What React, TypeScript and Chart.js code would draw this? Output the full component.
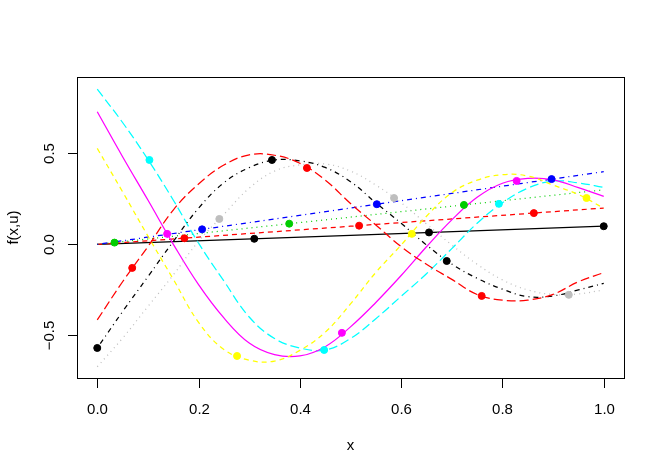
import React, { useEffect, useRef } from "react";
import { Chart, registerables } from "chart.js";

Chart.register(...registerables);

const xGrid = [0, 0.05, 0.1, 0.15, 0.2, 0.25, 0.3, 0.35, 0.4, 0.45, 0.5, 0.55, 0.6, 0.65, 0.7, 0.75, 0.8, 0.85, 0.9, 0.95, 1];

// straight lines (end points)
const lineX = [0, 1];
const blackSolid = [0, 0.1];
const redDashed = [0, 0.2];
const greenDotted = [0, 0.3];
const blueDotDash = [0, 0.4];

// curves
const cyanLong = [0.853, 0.670, 0.467, 0.244, 0.007, -0.201, -0.399, -0.517, -0.569, -0.580, -0.517, -0.408, -0.285, -0.161, -0.023, 0.116, 0.229, 0.309, 0.348, 0.338, 0.313];
const magentaSolid = [0.729, 0.482, 0.244, 0.002, -0.221, -0.404, -0.542, -0.606, -0.613, -0.562, -0.453, -0.319, -0.171, -0.013, 0.135, 0.259, 0.336, 0.363, 0.355, 0.312, 0.264];
const yellowDashed = [0.528, 0.289, 0.046, -0.191, -0.428, -0.577, -0.636, -0.641, -0.582, -0.483, -0.327, -0.154, -0.003, 0.155, 0.284, 0.353, 0.383, 0.376, 0.326, 0.274, 0.199];
const grayDotted = [-0.672, -0.515, -0.341, -0.168, 0.017, 0.165, 0.309, 0.403, 0.437, 0.442, 0.403, 0.326, 0.229, 0.113, -0.003, -0.109, -0.195, -0.250, -0.275, -0.272, -0.250];
const blackDotDash = [-0.569, -0.369, -0.177, 0.016, 0.199, 0.339, 0.422, 0.464, 0.459, 0.423, 0.345, 0.229, 0.116, -0.003, -0.108, -0.186, -0.246, -0.287, -0.283, -0.250, -0.214];
const redLong = [-0.415, -0.205, -0.012, 0.189, 0.332, 0.436, 0.492, 0.490, 0.446, 0.354, 0.225, 0.107, -0.012, -0.109, -0.192, -0.275, -0.306, -0.306, -0.274, -0.205, -0.155];

// sampled points
const pointX = [0, 0.034, 0.069, 0.103, 0.138, 0.172, 0.207, 0.241, 0.276, 0.310, 0.345, 0.379, 0.414, 0.448, 0.483, 0.517, 0.552, 0.586, 0.621, 0.655, 0.690, 0.724, 0.759, 0.793, 0.828, 0.862, 0.897, 0.931, 0.966, 1.0];
const pointY = [-0.569, 0.010, -0.129, 0.464, 0.058, 0.034, 0.083, 0.140, -0.613, 0.031, 0.464, 0.114, 0.420, -0.580, -0.486, 0.103, 0.221, 0.255, 0.058, 0.066, -0.091, 0.217, -0.283, 0.223, 0.349, 0.172, 0.359, -0.277, 0.255, 0.1];
const pointColors = [
  "#000000", "#00CD00", "#FF0000", "#00FFFF", "#FF00FF", "#FF0000", "#0000FF", "#BEBEBE", "#FFFF00", "#000000",
  "#000000", "#00CD00", "#FF0000", "#00FFFF", "#FF00FF", "#FF0000", "#0000FF", "#BEBEBE", "#FFFF00", "#000000",
  "#000000", "#00CD00", "#FF0000", "#00FFFF", "#FF00FF", "#FF0000", "#0000FF", "#BEBEBE", "#FFFF00", "#000000",
];

const xTicks = [0, 0.2, 0.4, 0.6, 0.8, 1.0];
const xTickLabels = ["0.0", "0.2", "0.4", "0.6", "0.8", "1.0"];
const yTicks = [-0.5, 0, 0.5];
const yTickLabels = ["\u22120.5", "0.0", "0.5"];
const xTitle = "x";
const yTitle = "f(x,u)";

const FONT = "15px 'Liberation Sans', Arial, Helvetica, sans-serif";

const rAxes = {
  id: "rAxes",
  afterDraw(chart: any) {
    const { ctx, chartArea: a, scales } = chart;
    const xs = scales.x;
    const ys = scales.y;
    ctx.save();
    ctx.strokeStyle = "#000";
    ctx.fillStyle = "#000";
    ctx.lineWidth = 1;
    ctx.setLineDash([]);
    ctx.strokeRect(a.left + 0.5, a.top + 0.5, a.right - a.left, a.bottom - a.top);
    ctx.font = FONT;
    // x axis
    ctx.textAlign = "center";
    ctx.textBaseline = "alphabetic";
    xTicks.forEach((v, i) => {
      const px = Math.round(xs.getPixelForValue(v)) + 0.5;
      ctx.beginPath();
      ctx.moveTo(px, a.bottom + 0.5);
      ctx.lineTo(px, a.bottom + 10);
      ctx.stroke();
      ctx.fillText(xTickLabels[i], px, a.bottom + 35.5);
    });
    ctx.fillText(xTitle, (a.left + a.right) / 2, a.bottom + 71.5);
    // y axis
    yTicks.forEach((v, i) => {
      const py = Math.round(ys.getPixelForValue(v)) + 0.5;
      ctx.beginPath();
      ctx.moveTo(a.left + 0.5, py);
      ctx.lineTo(a.left - 9, py);
      ctx.stroke();
      ctx.save();
      ctx.translate(a.left - 23, py);
      ctx.rotate(-Math.PI / 2);
      ctx.fillText(yTickLabels[i], 0, 0);
      ctx.restore();
    });
    ctx.save();
    ctx.translate(a.left - 59, (a.top + a.bottom) / 2);
    ctx.rotate(-Math.PI / 2);
    ctx.fillText(yTitle, 0, 0);
    ctx.restore();
    ctx.restore();
  },
};

function toXY(xs: number[], ys: number[]) {
  return xs.map((x, i) => ({ x, y: ys[i] }));
}

function lineSet(xs: number[], ys: number[], color: string, dash: number[]) {
  return {
    type: "scatter" as const,
    data: toXY(xs, ys),
    showLine: true,
    borderColor: color,
    backgroundColor: color,
    borderWidth: 1.25,
    borderDash: dash,
    pointRadius: 0,
    tension: 0.4,
    fill: false,
  };
}

export default function App() {
  const ref = useRef<HTMLCanvasElement | null>(null);
  useEffect(() => {
    if (!ref.current) return;
    const curves = [
      lineSet(lineX, blackSolid, "#000000", []),
      lineSet(lineX, redDashed, "#FF0000", [5, 4]),
      lineSet(lineX, greenDotted, "#00CD00", [1, 4]),
      lineSet(lineX, blueDotDash, "#0000FF", [1, 4, 5, 4]),
      lineSet(xGrid, cyanLong, "#00FFFF", [9, 4]),
      lineSet(xGrid, magentaSolid, "#FF00FF", []),
      lineSet(xGrid, yellowDashed, "#FFFF00", [5, 4]),
      lineSet(xGrid, grayDotted, "#BEBEBE", [1, 4]),
      lineSet(xGrid, blackDotDash, "#000000", [1, 4, 5, 4]),
      lineSet(xGrid, redLong, "#FF0000", [9, 4]),
    ];
    const points = {
      type: "scatter" as const,
      data: toXY(pointX, pointY),
      showLine: false,
      pointRadius: 3.5,
      pointBorderWidth: 1,
      pointBackgroundColor: pointColors,
      pointBorderColor: pointColors,
    };
    const chart = new Chart(ref.current, {
      type: "scatter",
      data: { datasets: [points as any, ...curves.reverse()] },
      options: {
        responsive: false,
        animation: false,
        events: [],
        layout: { padding: { left: 77, right: 40, top: 77, bottom: 97 } },
        plugins: { legend: { display: false }, tooltip: { enabled: false } },
        scales: {
          x: { type: "linear", min: -0.04, max: 1.04, display: false },
          y: { type: "linear", min: -0.734, max: 0.92, display: false },
        },
      },
      plugins: [rAxes],
    });
    return () => chart.destroy();
  }, []);
  return (
    <div style={{ position: "absolute", left: 0, top: 0, width: 664, height: 475, background: "#fff" }}>
      <canvas ref={ref} width={664} height={475} style={{ display: "block" }} />
    </div>
  );
}
